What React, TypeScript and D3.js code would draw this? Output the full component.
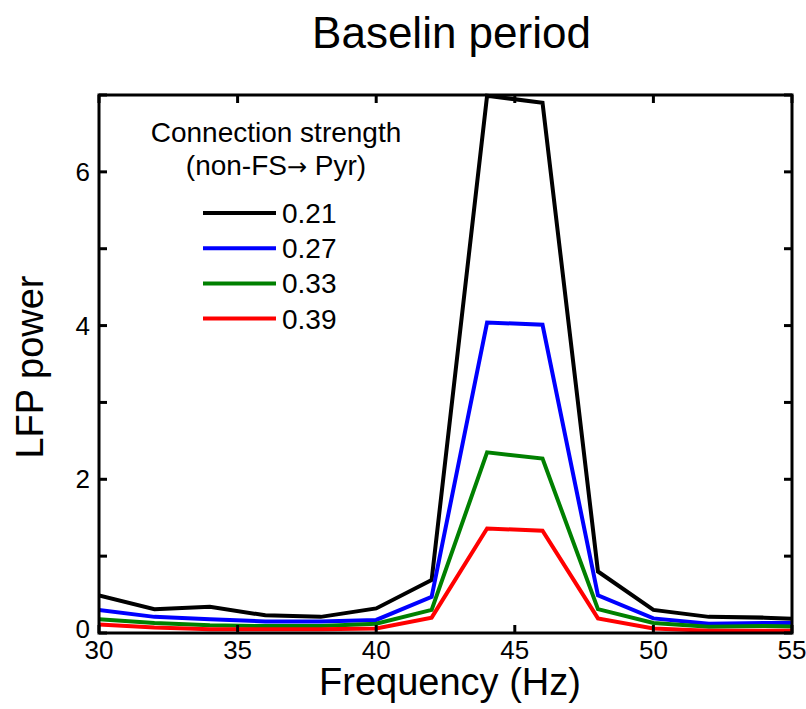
import * as d3 from "d3";

const freqs = [30, 32, 34, 36, 38, 40, 42, 44, 46, 48, 50, 52, 54, 56];
const strengths = ["0.21", "0.27", "0.33", "0.39"];
const colors = ["#000000", "#0000ff", "#008000", "#ff0000"];
const power021 = [0.49, 0.31, 0.34, 0.23, 0.21, 0.32, 0.69, 6.99, 6.9, 0.8, 0.3, 0.21, 0.2, 0.17];
const power027 = [0.3, 0.21, 0.18, 0.15, 0.15, 0.17, 0.47, 4.04, 4.01, 0.49, 0.19, 0.12, 0.13, 0.13];
const power033 = [0.18, 0.13, 0.1, 0.09, 0.09, 0.12, 0.3, 2.35, 2.27, 0.31, 0.13, 0.08, 0.09, 0.08];
const power039 = [0.11, 0.07, 0.05, 0.05, 0.05, 0.06, 0.2, 1.36, 1.33, 0.19, 0.06, 0.03, 0.03, 0.03];
const series = [power021, power027, power033, power039];
const xTicks = [30, 35, 40, 45, 50, 55];
const yTicks = [0, 1, 2, 3, 4, 5, 6, 7];
const yLabels = [0, 2, 4, 6];

const W = 806;
const H = 709;
const M = { left: 99, top: 95, right: 14, bottom: 76 };
const FONT = "Arial, 'Liberation Sans', Helvetica, sans-serif";

export default function App() {
  const x = d3.scaleLinear().domain([30, 55]).range([M.left, W - M.right]);
  const y = d3.scaleLinear().domain([0, 7]).range([H - M.bottom, M.top]);
  const x0 = x.range()[0];
  const x1 = x.range()[1];
  const y0 = y.range()[0];
  const y1 = y.range()[1];

  const line = d3
    .line<number>()
    .x((_, i) => x(freqs[i]))
    .y((d) => y(d));

  const tick = 8;

  return (
    <div style={{ position: "absolute", left: 0, top: 0 }}>
      <svg width={W} height={H} style={{ display: "block", background: "#fff" }} fontFamily={FONT}>
        <defs>
          <clipPath id="plot">
            <rect x={x0} y={y1 - 2} width={x1 - x0} height={y0 - y1 + 2} />
          </clipPath>
        </defs>
        <text x={(x0 + x1) / 2 + 6} y={48} fontSize={44} textAnchor="middle">
          Baselin period
        </text>

        <g clipPath="url(#plot)">
          {series.map((s, i) => (
            <path key={i} d={line(s) || ""} fill="none" stroke={colors[i]} strokeWidth={4} strokeLinejoin="miter" />
          ))}
        </g>

        {/* box */}
        <rect x={x0} y={y1} width={x1 - x0} height={y0 - y1} fill="none" stroke="#000" strokeWidth={3} />

        {/* x ticks */}
        {xTicks.map((t) => (
          <g key={t}>
            <line x1={x(t)} x2={x(t)} y1={y0} y2={y0 - tick} stroke="#000" strokeWidth={3} />
            <line x1={x(t)} x2={x(t)} y1={y1} y2={y1 + tick} stroke="#000" strokeWidth={3} />
            <text x={x(t)} y={y0 + 26} fontSize={26} textAnchor="middle">
              {t}
            </text>
          </g>
        ))}

        {/* y ticks */}
        {yTicks.map((t) => (
          <g key={t}>
            <line x1={x0} x2={x0 + tick} y1={y(t)} y2={y(t)} stroke="#000" strokeWidth={3} />
            <line x1={x1} x2={x1 - tick} y1={y(t)} y2={y(t)} stroke="#000" strokeWidth={3} />
          </g>
        ))}
        {yLabels.map((t) => (
          <text key={t} x={x0 - 9} y={y(t) + (t === 0 ? 5 : 9)} fontSize={26} textAnchor="end">
            {t}
          </text>
        ))}

        <text x={450} y={y0 + 62} fontSize={38} textAnchor="middle">
          Frequency (Hz)
        </text>
        <text transform={`translate(43, ${(y0 + y1) / 2 + 3}) rotate(-90)`} fontSize={38} textAnchor="middle">
          LFP power
        </text>

        {/* legend */}
        <text x={276} y={142} fontSize={28} textAnchor="middle">
          Connection strength
        </text>
        <text x={276} y={175} fontSize={28} textAnchor="middle">
          (non-FS<tspan fontFamily="'DejaVu Sans', sans-serif" fontSize={24}>→</tspan> Pyr)
        </text>
        {strengths.map((s, i) => (
          <g key={s} transform={`translate(0, ${213 + i * 35.2})`}>
            <line x1={203} x2={276} y1={0} y2={0} stroke={colors[i]} strokeWidth={4} />
            <text x={282} y={10} fontSize={28}>
              {s}
            </text>
          </g>
        ))}
      </svg>
    </div>
  );
}
